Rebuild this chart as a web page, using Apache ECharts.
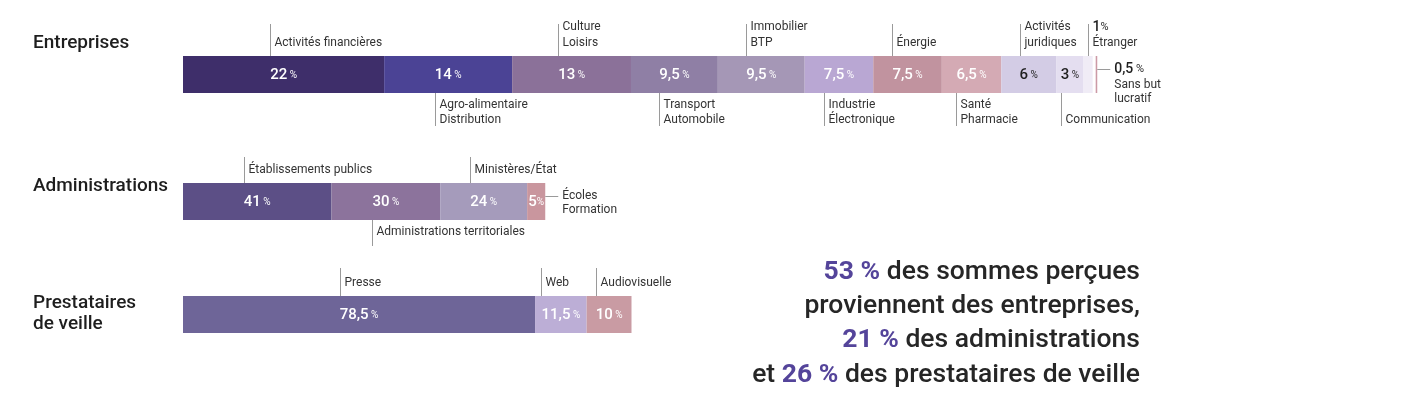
<html>
<head>
<meta charset="utf-8">
<title>Sommes perçues</title>
<script src="https://cdn.jsdelivr.net/npm/echarts@6/dist/echarts.min.js"></script>
<style>
  html, body { margin: 0; padding: 0; background: #fff; }
  #chart { width: 1416px; height: 417px; }
</style>
</head>
<body>
<div id="chart"></div>
<script>
// données
const groupNames = ['Entreprises', 'Administrations', 'Prestataires\nde veille'];
const groupShare = [53, 21, 26];

const entNames = ['Activités financières', 'Agro-alimentaire\nDistribution', 'Culture\nLoisirs', 'Transport\nAutomobile',
  'Immobilier\nBTP', 'Industrie\nÉlectronique', 'Énergie', 'Santé\nPharmacie', 'Activités\njuridiques',
  'Communication', 'Étranger', 'Sans but\nlucratif'];
const entPct = [22, 14, 13, 9.5, 9.5, 7.5, 7.5, 6.5, 6, 3, 1, 0.5];

const admNames = ['Établissements publics', 'Administrations territoriales', 'Ministères/État', 'Écoles\nFormation'];
const admPct = [41, 30, 24, 5];

const preNames = ['Presse', 'Web', 'Audiovisuelle'];
const prePct = [78.5, 11.5, 10];

// mise en forme
const entSide = ['top', 'bottom', 'top', 'bottom', 'top', 'bottom', 'top', 'bottom', 'top', 'bottom', 'top', 'right'];
const admSide = ['top', 'bottom', 'top', 'right'];
const preSide = ['top', 'top', 'top'];
const entColors = ['#3e2e6a', '#4b4395', '#8b7199', '#8f7fa5', '#a597b6', '#b9a7d3', '#c1939f', '#d4aab4', '#d3cce5', '#e4def0', '#f0ecf6', '#cc9aa6'];
const admColors = ['#5c4f86', '#8c739c', '#a59bbb', '#c9969e'];
const preColors = ['#6e6598', '#bcaed6', '#c99ba3'];
const darkText = ['#d3cce5', '#e4def0', '#f0ecf6'];

const FONT = 'Roboto, "Open Sans", sans-serif';
const gridTop = [56, 183, 296];
const lineUp = [32, 26, 28];
const lineDown = [33, 26, 26];

const ctx = document.createElement('canvas').getContext('2d');
function measure(t, font) { ctx.font = font; return ctx.measureText(t).width; }
function fmt(v) { return String(v).replace('.', ','); }

const groups = [
  { names: entNames, pct: entPct, side: entSide, colors: entColors },
  { names: admNames, pct: admPct, side: admSide, colors: admColors },
  { names: preNames, pct: prePct, side: preSide, colors: preColors }
];

function makeData(g, k) {
  let acc = 0;
  return g.pct.map(function (p) {
    const v = p * groupShare[k] / 100;
    const row = [0, acc, acc + v];
    acc += v;
    return row;
  });
}

function makeRender(g, k) {
  return function (params, api) {
    const i = params.dataIndex;
    const a = api.coord([api.value(1), 0]);
    const b = api.coord([api.value(2), 0]);
    const h = api.size([0, 1])[1];
    const top = a[1] - h / 2, bot = top + h;
    const prevTiny = i > 0 && g.pct[i - 1] < 1.5 && g.pct[i] < 1.5;
    const x0 = a[0] + (prevTiny ? 3 : 0), x1 = b[0];
    const w = x1 - x0;
    const col = g.colors[i];
    const tcol = darkText.indexOf(col) >= 0 ? '#1f1f1f' : '#ffffff';
    const num = fmt(g.pct[i]);
    const sep = w < 24 ? '' : ' ';
    const children = [{ type: 'rect', shape: { x: x0, y: top, width: w, height: h }, style: { fill: col } }];
    const inside = w >= 15;
    let anchor = (x0 + x1) / 2;
    if (inside) {
      const tw = measure(num, '500 15px Roboto') + measure(sep + '%', '10px Roboto');
      anchor = (x0 + x1) / 2 - tw / 2;
      children.push({
        type: 'text',
        style: {
          text: '{n|' + num + '}{p|' + sep + '%}',
          x: (x0 + x1) / 2, y: (top + bot) / 2 + 1,
          align: 'center', verticalAlign: 'middle',
          rich: {
            n: { fontSize: 15, fontWeight: 500, fontFamily: FONT, fill: tcol },
            p: { fontSize: 10, fontFamily: FONT, fill: tcol }
          }
        }
      });
    }
    let txt = g.names[i].split('\n').map(function (s) { return '{t|' + s + '}'; }).join('\n');
    if (!inside) txt = '{b|' + num + '}{q|' + (g.pct[i] < 1 ? ' %' : '%') + '}\n' + txt;
    const rich = {
      t: { fontSize: 12, fontFamily: FONT, fill: '#333', lineHeight: g.side[i] === 'right' ? 14 : 16 },
      b: { fontSize: 14, fontWeight: 500, fontFamily: FONT, fill: '#1f1f1f', lineHeight: 16 },
      q: { fontSize: 11, fontFamily: FONT, fill: '#1f1f1f', lineHeight: 16 }
    };
    const lx = Math.round(anchor) + 0.5;
    const lineStyle = { stroke: '#9a9a9a', lineWidth: 1 };
    if (g.side[i] === 'top') {
      children.push({ type: 'line', shape: { x1: lx, y1: top - lineUp[k], x2: lx, y2: top }, style: lineStyle });
      children.push({ type: 'text', style: { text: txt, x: lx + 4, y: top - 5, align: 'left', verticalAlign: 'bottom', rich: rich } });
    } else if (g.side[i] === 'bottom') {
      rich.t.lineHeight = 15;
      // les étiquettes du dessous s'alignent sur leur dernière ligne
      const lastY = g.names[i].indexOf('\n') >= 0 || k > 0 ? bot + 4 : bot + 19;
      children.push({ type: 'line', shape: { x1: lx, y1: bot, x2: lx, y2: bot + lineDown[k] }, style: lineStyle });
      children.push({ type: 'text', style: { text: txt, x: lx + 4, y: lastY, align: 'left', verticalAlign: 'top', rich: rich } });
    } else {
      const ly = Math.round(top + 13) + 0.5;
      children.push({ type: 'line', shape: { x1: x1, y1: ly, x2: x1 + 13, y2: ly }, style: lineStyle });
      children.push({ type: 'text', style: { text: txt, x: x1 + 17, y: ly - 8, align: 'left', verticalAlign: 'top', rich: rich } });
    }
    return { type: 'group', children: children };
  };
}

const grids = [], xAxes = [], yAxes = [], series = [];
groups.forEach(function (g, k) {
  grids.push({ left: 183, right: 198, top: gridTop[k], height: 37 });
  xAxes.push({ type: 'value', gridIndex: k, min: 0, max: 60, show: false });
  yAxes.push({ type: 'category', gridIndex: k, data: [groupNames[k]], show: false });
  series.push({
    type: 'custom', xAxisIndex: k, yAxisIndex: k, clip: false,
    encode: { x: [1, 2], y: 0 },
    renderItem: makeRender(g, k),
    data: makeData(g, k)
  });
});

const titleY = [43, 186, 314];
const graphic = groupNames.map(function (n, k) {
  return {
    type: 'text', left: 33, top: titleY[k] - (n.indexOf('\n') >= 0 ? 21 : 10.5),
    style: { text: n, fontSize: 19, fontWeight: 500, fontFamily: FONT, fill: '#1e1e1e', lineHeight: 21 }
  };
});

const summary = ['{h|53 %} des sommes perçues', 'proviennent des entreprises,', '{h|21 %} des administrations', 'et {h|26 %} des prestataires de veille'];
const sumY = [272, 306, 340, 375];
summary.forEach(function (s, i) {
  graphic.push({
    type: 'text', right: 1416 - 1140, top: sumY[i] - 16,
    style: {
      text: s, fontSize: 26.5, fontWeight: 500, fontFamily: FONT, fill: '#262626', lineHeight: 32,
      rich: { h: { fontSize: 26.5, fontWeight: 700, fontFamily: FONT, fill: '#54449a', lineHeight: 32 } }
    }
  });
});

const chart = echarts.init(document.getElementById('chart'));
chart.setOption({
  animation: false,
  grid: grids, xAxis: xAxes, yAxis: yAxes,
  series: series,
  graphic: graphic
});
</script>
</body>
</html>
